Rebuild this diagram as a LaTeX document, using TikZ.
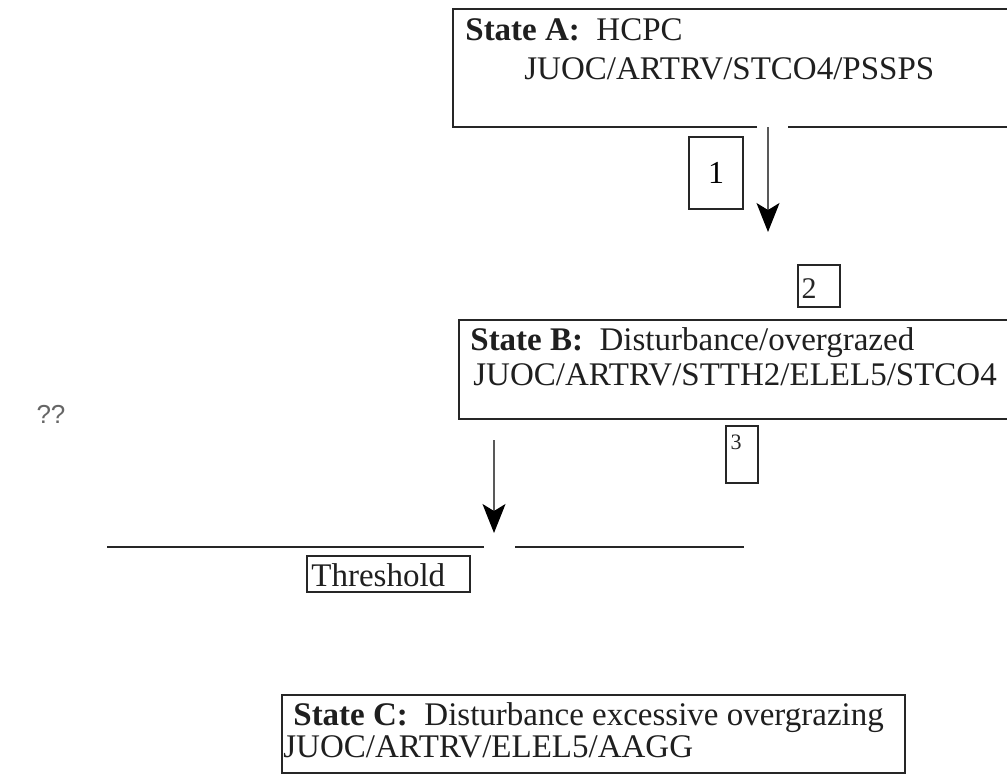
\documentclass[tikz,border=0pt]{standalone}
\usepackage{fontspec}
\setmainfont{Liberation Serif}
\newfontfamily\qfont{Liberation Sans}
\usetikzlibrary{fit,arrows.meta}
\begin{document}
\begin{tikzpicture}[x=0.5pt,y=-0.5pt,
  ln/.style={draw=black!85, line width=0.9pt},
  frame/.style={inner sep=0pt, outer sep=0pt},
  txt/.style={anchor=base west, inner sep=0pt, font=\fontsize{16.5}{20}\selectfont, text=black!88},
  num/.style={inner sep=0pt, text=black!85},
  arr/.style={draw=black!65, line width=0.6pt, -{Stealth[length=14.5pt,width=11.5pt,inset=3.5pt,color=black]}},
]
\useasboundingbox[fill=white] (0,0) rectangle (1007,776);

% State A box
\coordinate (a1) at (453,9);
\coordinate (a2) at (1015,127);
\node[frame, fit=(a1)(a2)] (A) {};
\draw[ln] (757,127) -- (A.south west) -- (A.north west) -- (A.north east) -- (A.south east) -- (788,127);
\node[txt] (Aa) at (465,40) {\textbf{State A:}\ \ HCPC};
\node[txt] (Ab) at (524,79) {JUOC/ARTRV/STCO4/PSSPS};

% arrow 1
\coordinate (t1) at (768,232);
\draw[arr] (A.south -| t1) -- (t1);

% box 1
\node[ln, frame, minimum width=27pt, minimum height=36pt, font=\fontsize{16}{18}\selectfont] (n1) at (716,173) {1};

% box 2
\node[ln, frame, minimum width=21pt, minimum height=21pt] (n2) at (819,286) {};
\node[num, font=\fontsize{15}{18}\selectfont] (n2t) at (809,289) {2};

% State B box
\coordinate (b1) at (459,320);
\coordinate (b2) at (1015,419);
\node[ln, frame, fit=(b1)(b2)] (B) {};
\node[txt] (Ba) at (470,350) {\textbf{State B:}\ \ Disturbance/overgrazed};
\node[txt] (Bb) at (473,385) {JUOC/ARTRV/STTH2/ELEL5/STCO4};

% box 3
\node[ln, frame, minimum width=16pt, minimum height=28.5pt] (n3) at (742,454.5) {};
\node[num, font=\fontsize{11}{13}\selectfont] (n3t) at (736,442) {3};

% ??
\node[num, text=black!60, font=\qfont\fontsize{13}{15}\selectfont] (qq) at (51,414) {??};

% arrow 2
\coordinate (s2) at (494,440);
\coordinate (t2) at (494,533);
\draw[arr] (s2) -- (t2);

% threshold line
\coordinate (l1) at (107,547);
\coordinate (l2) at (484,547);
\coordinate (l3) at (515,547);
\coordinate (l4) at (744,547);
\draw[ln] (l1) -- (l2);
\draw[ln] (l3) -- (l4);
\node[ln, frame, minimum width=81.5pt, minimum height=18pt] (th) at (388.5,574) {};
\node[txt] (tht) at (311,586) {Threshold};

% State C box
\coordinate (c1) at (282,695);
\coordinate (c2) at (905,773);
\node[ln, frame, fit=(c1)(c2)] (C) {};
\node[txt] (Ca) at (293,725) {\textbf{State C:}\ \ Disturbance excessive overgrazing};
\node[txt] (Cb) at (283,757) {JUOC/ARTRV/ELEL5/AAGG};
\end{tikzpicture}
\end{document}
